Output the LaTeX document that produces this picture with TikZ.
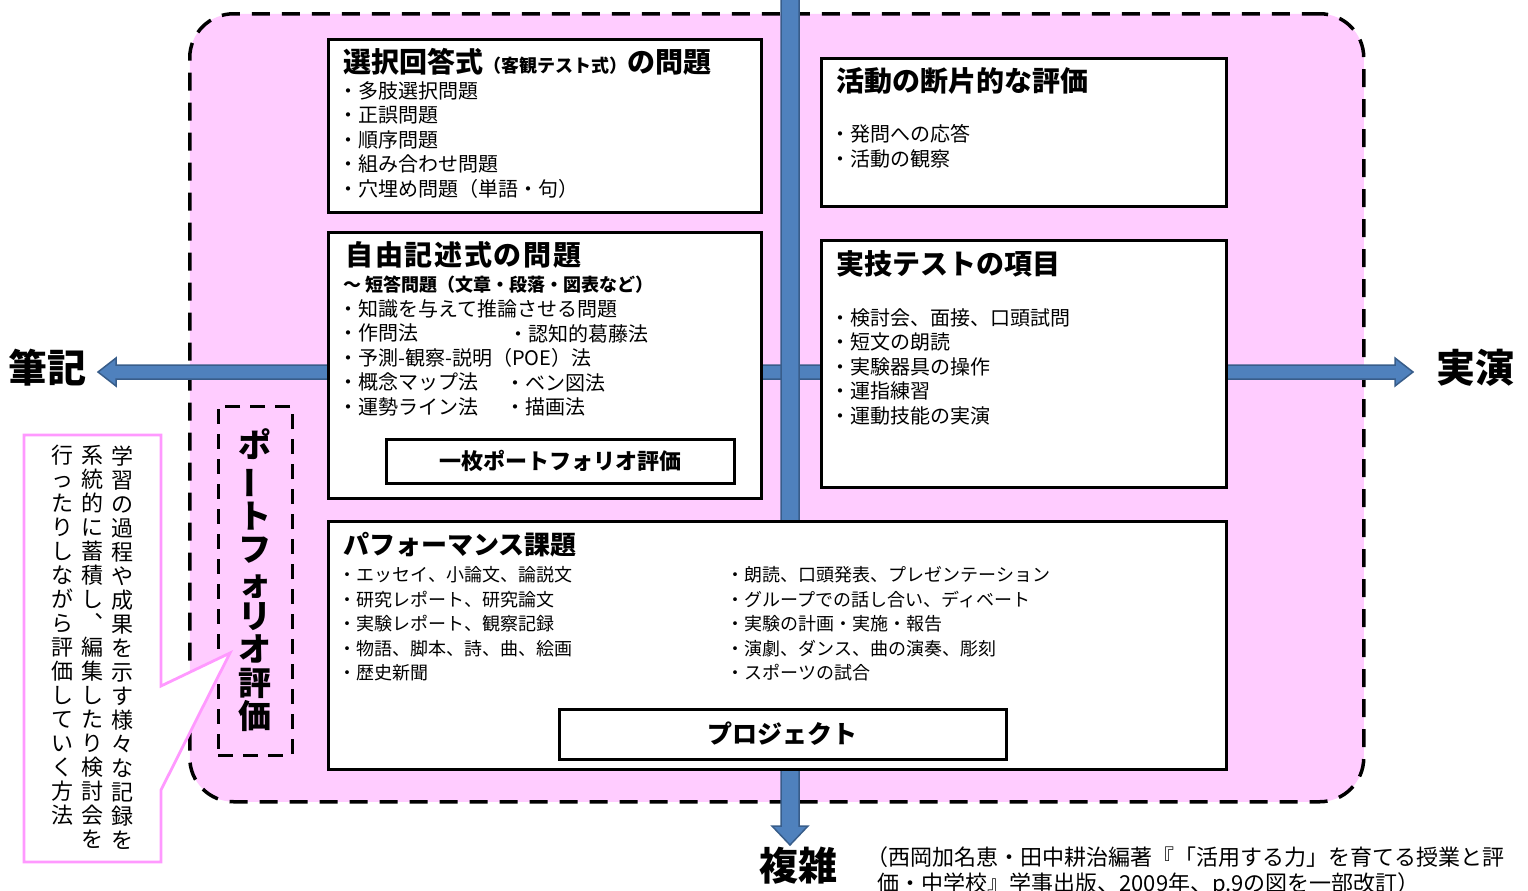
\documentclass[tikz,border=0pt]{standalone}
\usepackage{fontspec}
\usepackage{graphicx}
\setmainfont{Noto Sans CJK JP}
\usetikzlibrary{positioning}

\definecolor{areapink}{RGB}{255,204,255}
\definecolor{calloutpink}{RGB}{255,153,255}
\definecolor{axisblue}{RGB}{79,129,189}
\definecolor{axisdark}{RGB}{56,93,138}

\newcommand{\fs}[2]{\fontsize{#1}{#2}\selectfont}

\tikzset{
  area/.style={draw=black, fill=areapink, line width=1.75pt, dash pattern=on 9pt off 6pt, rounded corners=22pt},
  box/.style={draw=black, fill=white, line width=1.5pt, inner sep=0pt},
  pfbox/.style={draw=black, line width=1.5pt, dash pattern=on 7.5pt off 5pt, inner sep=0pt},
  axis/.style={fill=axisblue, draw=axisdark, line width=0.75pt},
  axislabel/.style={inner sep=0pt, font=\bfseries\fs{19.5}{22}},
  title/.style={anchor=west, inner sep=0pt, font=\bfseries\fs{14}{16}},
  items/.style={anchor=north west, inner sep=0pt, align=left, font=\fs{10}{12.25}},
  callout/.style={draw=calloutpink, fill=white, line width=1.4pt},
  tate/.style={anchor=north, inner sep=0pt, align=center, font=\fs{11}{12}},
}

\begin{document}
\begin{tikzpicture}[x=0.5pt, y=-0.5pt]
    \useasboundingbox (0,0) rectangle (1528,890);

    % pink area
    \node [area, anchor=north west, minimum width=587pt, minimum height=394pt] (area) at (188,12) {};

    % axes
    \filldraw [axis] (98,372) -- (116,358) -- (116,365) -- (1395,365) -- (1395,358) -- (1413,372)
        -- (1395,386) -- (1395,379) -- (116,379) -- (116,386) -- cycle;
    \filldraw [axis] (781,-5) -- (799,-5) -- (799,826) -- (808,826) -- (790,845) -- (772,826) -- (781,826) -- cycle;

    \node [axislabel] (hikki)     at (48,368)  {筆記};
    \node [axislabel] (jitsuen)   at (1475,368) {実演};
    \node [axislabel] (fukuzatsu) at (798,866) {複雑};

    % top left
    \node [box, anchor=north west, minimum width=216.5pt, minimum height=86.5pt] (sentaku) at (327,38) {};
    \node [title] (sentaku title) at (343,62) {選択回答式{\fs{9}{10}（客観テスト式）}の問題};
    \node [items] (sentaku list) at (338,81)
        {・多肢選択問題\\・正誤問題\\・順序問題\\・組み合わせ問題\\・穴埋め問題（単語・句）};

    % middle left
    \node [box, anchor=north west, minimum width=216.5pt, minimum height=133pt] (jiyu) at (327,231) {};
    \node [title, font=\bfseries\fs{14}{16}\addfontfeature{LetterSpace=6}] (jiyu title) at (345,255) {自由記述式の問題};
    \node [anchor=west, inner sep=0pt, font=\bfseries\fs{9}{10}] (jiyu sub) at (343,285) {〜 短答問題（文章・段落・図表など）};
    \node [items] (jiyu list) at (338,299)
        {・知識を与えて推論させる問題\\・作問法\\・予測-観察-説明（POE）法\\・概念マップ法\\・運勢ライン法};
    \node [items, anchor=west] (ninchi) at (508,334) {・認知的葛藤法};
    \node [items, anchor=west] (venn)   at (505,383) {・ベン図法};
    \node [items, anchor=west] (byoga)  at (505,407) {・描画法};
    \node [box, minimum width=174pt, minimum height=22pt, font=\bfseries\fs{11}{12}] (ichimai) at (560,461) {一枚ポートフォリオ評価};

    % top right
    \node [box, anchor=north west, minimum width=202.5pt, minimum height=74pt] (danpen) at (820,57) {};
    \node [title] (danpen title) at (836,81) {活動の断片的な評価};
    \node [items] (danpen list) at (830,124) {・発問への応答\\・活動の観察};

    % middle right
    \node [box, anchor=north west, minimum width=202.5pt, minimum height=123.5pt] (jitsugi) at (820,239) {};
    \node [title] (jitsugi title) at (836,264) {実技テストの項目};
    \node [items] (jitsugi list) at (830,308)
        {・検討会、面接、口頭試問\\・短文の朗読\\・実験器具の操作\\・運指練習\\・運動技能の実演};

    % bottom
    \node [box, anchor=north west, minimum width=449pt, minimum height=124pt] (pfm) at (327,520) {};
    \node [title, font=\bfseries\fs{13}{15}] (pfm title) at (343,545) {パフォーマンス課題};
    \node [items, font=\fs{9}{12.25}] (pfm left) at (338,566)
        {・エッセイ、小論文、論説文\\・研究レポート、研究論文\\・実験レポート、観察記録\\・物語、脚本、詩、曲、絵画\\・歴史新聞};
    \node [items, font=\fs{9}{12.25}] (pfm right) at (726,566)
        {・朗読、口頭発表、プレゼンテーション\\・グループでの話し合い、ディベート\\・実験の計画・実施・報告\\・演劇、ダンス、曲の演奏、彫刻\\・スポーツの試合};
    \node [box, minimum width=223.5pt, minimum height=25pt, font=\bfseries\fs{12.5}{14}] (project) at (782.5,734) {プロジェクト};

    % portfolio
    \node [pfbox, minimum width=37pt, minimum height=174.5pt, align=center, font=\bfseries\fs{16.5}{16.7}] (portfolio) at (255,580.5)
        {ポ\\\rotatebox[origin=c]{90}{ー}\\ト\\フ\\ォ\\リ\\オ\\評\\価};

    % callout
    \coordinate (callout tip) at (230,653);
    \draw [callout] (24,435) -- (161,435) -- (161,686) -- (callout tip) -- (161,790) -- (161,862) -- (24,862) -- cycle;
    \node [tate] (kiroku)    at (122,445) {学\\習\\の\\過\\程\\や\\成\\果\\を\\示\\す\\様\\々\\な\\記\\録\\を};
    \node [tate] (chikuseki) at (93,445)  {系\\統\\的\\に\\蓄\\積\\し\\︑\\編\\集\\し\\た\\り\\検\\討\\会\\を};
    \node [tate] (houhou)    at (63,445)  {行\\っ\\た\\り\\し\\な\\が\\ら\\評\\価\\し\\て\\い\\く\\方\\法};

    % source
    \node [items, font=\fs{11}{13}] (source) at (877,846)
        {\hspace*{-0.5em}（西岡加名恵・田中耕治編著『「活用する力」を育てる授業と評\\価・中学校』学事出版、2009年、p.9の図を一部改訂）};

\end{tikzpicture}
\end{document}
